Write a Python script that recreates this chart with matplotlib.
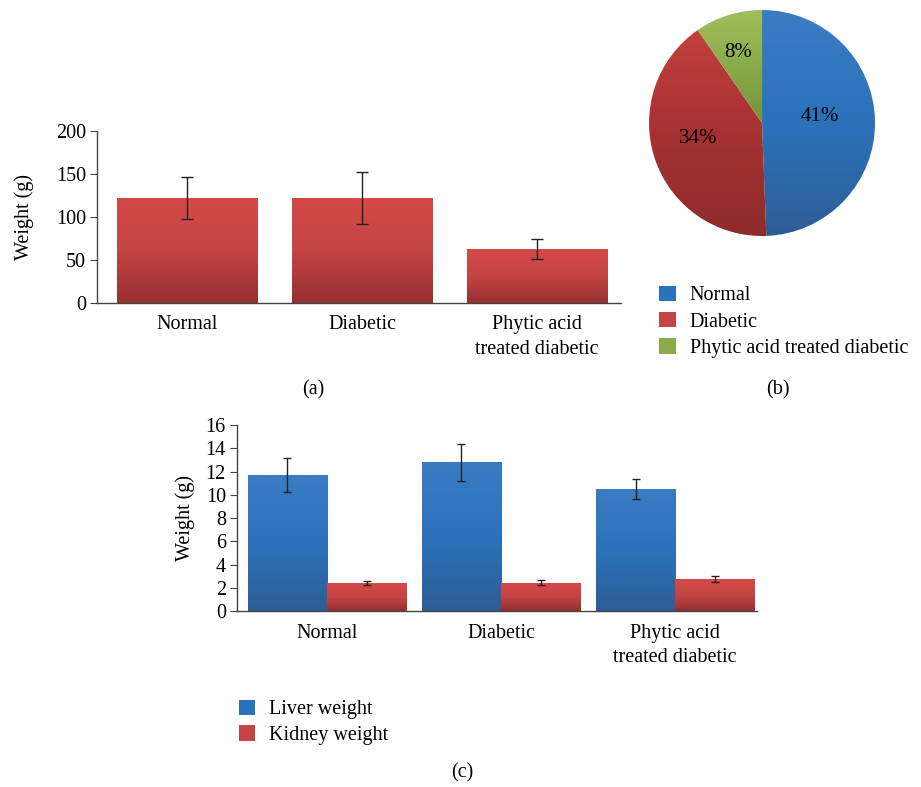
import numpy as np
import matplotlib
matplotlib.use("Agg")
import matplotlib.pyplot as plt
from matplotlib.colors import LinearSegmentedColormap
from matplotlib.patches import Patch

plt.rcParams['font.family'] = ['Liberation Serif', 'DejaVu Serif']
plt.rcParams['font.size'] = 14.5

# --- data ---
groups = ['Normal', 'Diabetic', 'Phytic acid\ntreated diabetic']
body_weight = [122, 122, 63]
body_err = [24.5, 30.5, 12]

pie_labels = ['Normal', 'Diabetic', 'Phytic acid treated diabetic']
pie_values = [41, 34, 8]

liver_weight = [11.7, 12.8, 10.5]
liver_err = [1.5, 1.6, 0.87]
kidney_weight = [2.4, 2.45, 2.75]
kidney_err = [0.2, 0.22, 0.26]

# gradient colours (top -> bottom)
RED = ['#d44a48', '#c44543', '#962f30']
BLUE = ['#3b7cc3', '#2b72ba', '#2e5d95']
GREEN = ['#9fc05a', '#8aab4a', '#76923c']
PIE_RED = ['#c4403f', '#a53231', '#8e2b2b']


def gradient_fill(ax, patch, colors):
    """Replace a patch's flat face by a vertical gradient clipped to it"""
    cmap = LinearSegmentedColormap.from_list('g', colors[::-1])
    bb = patch.get_path().get_extents(patch.get_transform() - ax.transData)
    grad = np.linspace(0, 1, 256).reshape(-1, 1)
    im = ax.imshow(grad, cmap=cmap, origin='lower', aspect='auto',
                   extent=[bb.x0, bb.x1, bb.y0, bb.y1], zorder=patch.get_zorder())
    im.set_clip_path(patch)
    patch.set_facecolor('none')


def style_axes(ax):
    for s in ['top', 'right']:
        ax.spines[s].set_visible(False)
    for s in ['left', 'bottom']:
        ax.spines[s].set_color('#444444')
        ax.spines[s].set_linewidth(1.0)
    ax.tick_params(axis='x', length=0, pad=9)
    ax.tick_params(axis='y', length=5, color='#444444', pad=3)


fig = plt.figure(figsize=(9.21, 7.87), dpi=100)

# --- (a) body weight ---
ax_a = fig.add_axes([0.1053, 0.6150, 0.5690, 0.2185])
x = np.arange(len(groups))
bars = ax_a.bar(x, body_weight, width=0.805, color=RED[1], zorder=2)
for b in bars:
    gradient_fill(ax_a, b, RED)
ax_a.errorbar(x, body_weight, yerr=body_err, fmt='none', ecolor='#222222',
              elinewidth=1, capsize=4, capthick=1, zorder=3)
ax_a.set_xlim(-0.517, 2.48)
ax_a.set_ylim(0, 200)
ax_a.set_yticks([0, 50, 100, 150, 200])
ax_a.set_xticks(x)
ax_a.set_xticklabels(groups, linespacing=1.4)
ax_a.set_ylabel('Weight (g)', labelpad=16)
style_axes(ax_a)

# --- (b) pie ---
ax_b = fig.add_axes([0.7047, 0.7001, 0.2454, 0.2872])
wedges, texts = ax_b.pie(pie_values, labels=[f'{v}%' for v in pie_values],
                         startangle=90, counterclock=False, radius=1,
                         colors=[BLUE[1], PIE_RED[1], GREEN[1]],
                         textprops={'fontsize': 15, 'ha': 'center', 'va': 'center'})
# label distances differ per wedge in the original
label_dist = [0.51, 0.58, 0.66]
label_shift = [5, -5, 1]
for w, c in zip(wedges, [BLUE, PIE_RED, GREEN]):
    gradient_fill(ax_b, w, c)
    w.set_edgecolor('white')
    w.set_linewidth(0.6)
for w, t, d, s in zip(wedges, texts, label_dist, label_shift):
    ang = np.deg2rad((w.theta1 + w.theta2) / 2 + s)
    t.set_position((d * np.cos(ang), d * np.sin(ang)))
ax_b.set_xlim(-1, 1)
ax_b.set_ylim(-1, 1)
ax_b.set_aspect('equal')
ax_b.axis('off')

pie_handles = [Patch(facecolor=c[1], edgecolor='none') for c in [BLUE, RED, GREEN]]
fig.legend(pie_handles, pie_labels, loc='upper left', bbox_to_anchor=(0.716, 0.637),
           frameon=False, borderpad=0, borderaxespad=0, handlelength=0.8,
           handleheight=0.8, handletextpad=0.7, labelspacing=0.33, fontsize=14.5)

# --- (c) organ weights ---
ax_c = fig.add_axes([0.2573, 0.2236, 0.5646, 0.2363])
w = 0.455
liver = ax_c.bar(x - w / 2, liver_weight, width=w, color=BLUE[1], zorder=2)
kidney = ax_c.bar(x + w / 2, kidney_weight, width=w, color=RED[1], zorder=2)
for b in liver:
    gradient_fill(ax_c, b, BLUE)
for b in kidney:
    gradient_fill(ax_c, b, RED)
ax_c.errorbar(x - w / 2, liver_weight, yerr=liver_err, fmt='none', ecolor='#222222',
              elinewidth=1, capsize=3, capthick=1, zorder=3)
ax_c.errorbar(x + w / 2, kidney_weight, yerr=kidney_err, fmt='none', ecolor='#222222',
              elinewidth=1, capsize=3, capthick=1, zorder=3)
ax_c.set_xlim(-0.517, 2.47)
ax_c.set_ylim(0, 16)
ax_c.set_yticks(range(0, 17, 2))
ax_c.set_xticks(x)
ax_c.set_xticklabels(groups, linespacing=1.4)
ax_c.set_ylabel('Weight (g)', labelpad=8)
style_axes(ax_c)

organ_handles = [Patch(facecolor=BLUE[1], edgecolor='none'),
                 Patch(facecolor=RED[1], edgecolor='none')]
fig.legend(organ_handles, ['Liver weight', 'Kidney weight'], loc='upper left',
           bbox_to_anchor=(0.2595, 0.111), frameon=False, borderpad=0,
           borderaxespad=0, handlelength=0.8, handleheight=0.8, handletextpad=0.7,
           labelspacing=0.3, fontsize=14.5)

# panel letters
fig.text(313 / 921, 1 - 390 / 787, '(a)', ha='center', va='center', fontsize=14.5)
fig.text(778 / 921, 1 - 390 / 787, '(b)', ha='center', va='center', fontsize=14.5)
fig.text(462 / 921, 1 - 773 / 787, '(c)', ha='center', va='center', fontsize=14.5)

fig.savefig('out.png', dpi=100)
